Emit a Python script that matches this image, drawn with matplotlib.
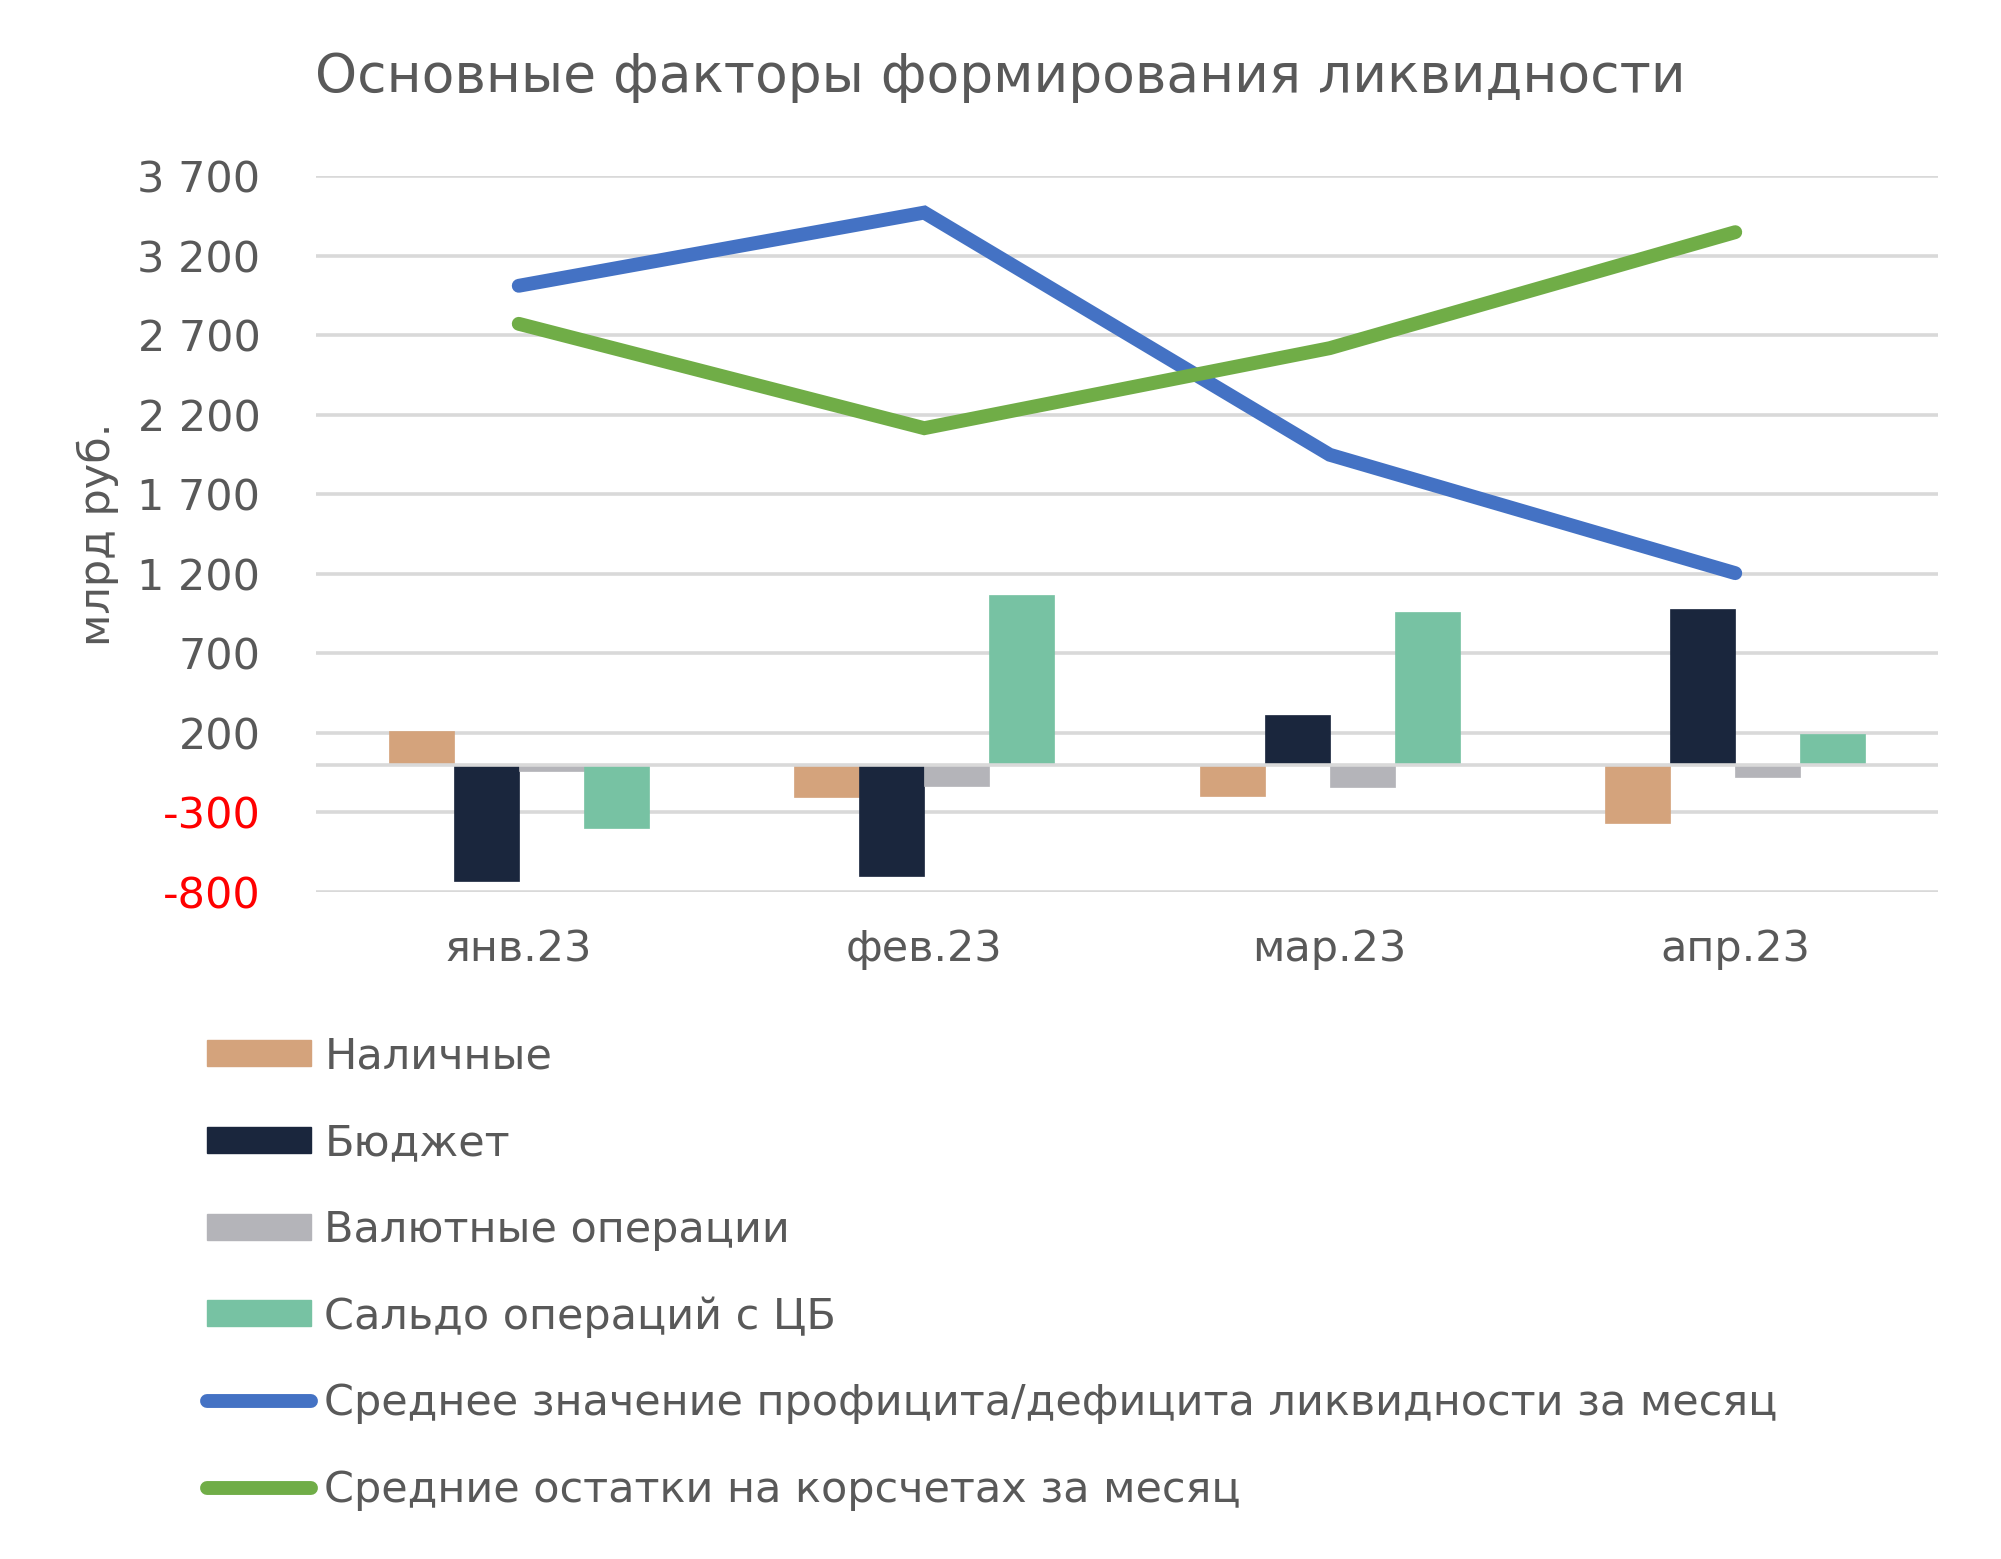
import matplotlib
matplotlib.use("Agg")
import matplotlib.pyplot as plt
import numpy as np
from matplotlib.patches import Patch
from matplotlib.lines import Line2D

categories = ["янв.23", "фев.23", "мар.23", "апр.23"]
cash = [215, -200, -195, -367]
budget = [-733, -697, 312, 976]
fx_ops = [-40, -132, -138, -78]
cb_balance = [-396, 1064, 961, 193]
liq_surplus = [3010, 3470, 1948, 1204]
corr_accounts = [2771, 2115, 2618, 3347]

bar_series = [
    ("Наличные", cash, "#D4A37C"),
    ("Бюджет", budget, "#1A263D"),
    ("Валютные операции", fx_ops, "#B4B4B9"),
    ("Сальдо операций с ЦБ", cb_balance, "#77C2A3"),
]
line_series = [
    ("Среднее значение профицита/дефицита ликвидности за месяц", liq_surplus, "#4472C4"),
    ("Средние остатки на корсчетах за месяц", corr_accounts, "#70AD47"),
]
yticks = [-800, -300, 200, 700, 1200, 1700, 2200, 2700, 3200, 3700]
ytick_labels = ["-800", "-300", "200", "700", "1 200", "1 700", "2 200", "2 700", "3 200", "3 700"]

plt.rcParams['font.family'] = ['DejaVu Sans']
txt = "#595959"
grid_c = "#D9D9D9"
fs = 31

fig = plt.figure(figsize=(20.01, 15.59), dpi=100)
ax = fig.add_axes([316/2001, 1-892/1559, (1938-316)/2001, (892-176)/1559])

x = np.arange(len(categories))
w = 0.16
handles = []
for i, (name, vals, col) in enumerate(bar_series):
    ax.bar(x + (i - 1.5) * w, vals, width=w, color=col, zorder=2,
           edgecolor=col, linewidth=0.5)
    handles.append(Patch(facecolor=col, edgecolor=col, label=name))
for name, vals, col in line_series:
    ax.plot(x, vals, color=col, lw=10, solid_capstyle='round',
            solid_joinstyle='miter', zorder=4)
    handles.append(Line2D([0], [0], color=col, lw=10, solid_capstyle='round', label=name))

ax.axhline(0, color=grid_c, lw=2.6, zorder=3)
ax.set_ylim(-800, 3700)
ax.set_xlim(-0.5, 3.5)
ax.set_yticks(yticks)
ax.set_yticklabels(ytick_labels)
ax.set_xticks(x)
ax.set_xticklabels(categories)
ax.yaxis.grid(True, color=grid_c, lw=2.6, zorder=0)
ax.set_axisbelow(True)
for s in ax.spines.values():
    s.set_visible(False)
ax.tick_params(axis='y', length=0, pad=40, labelsize=fs, labelcolor=txt)
ax.tick_params(axis='x', length=0, pad=26, labelsize=fs, labelcolor=txt)
for lbl, v in zip(ax.get_yticklabels(), yticks):
    if v < 0:
        lbl.set_color("#FF0000")

fig.text(98/2001, 1-534/1559, "млрд руб.", rotation=90, ha='center', va='center',
         fontsize=fs, color=txt)
fig.text(0.5, 1-77/1559, "Основные факторы формирования ликвидности",
         ha='center', va='center', fontsize=38.5, color=txt)

leg = fig.legend(handles=handles, loc='upper left', bbox_to_anchor=(190/2001, 1-1018/1559),
                 frameon=False, fontsize=fs, handlelength=2.4, handleheight=0.55,
                 labelspacing=1.04, handletextpad=0.32, borderaxespad=0)
for t in leg.get_texts():
    t.set_color(txt)

fig.savefig("out.png", dpi=100)
